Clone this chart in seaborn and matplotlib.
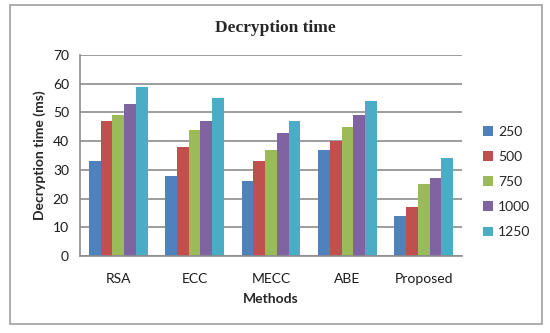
import pandas as pd
import seaborn as sns
import matplotlib
matplotlib.use('Agg')
import matplotlib.pyplot as plt
from matplotlib.patches import Rectangle

METHODS = ["RSA", "ECC", "MECC", "ABE", "Proposed"]
SIZES = ["250", "500", "750", "1000", "1250"]
T_250 = [33, 28, 26, 37, 14]
T_500 = [47, 38, 33, 40, 17]
T_750 = [49, 44, 37, 45, 25]
T_1000 = [53, 47, 43, 49, 27]
T_1250 = [59, 55, 47, 54, 34]
COLORS = ["#4F81BD", "#C0504D", "#9BBB59", "#8064A2", "#4BACC6"]

GRID = "#8c8c8c"


def make_plot():
    rows = []
    for size, vals in zip(SIZES, [T_250, T_500, T_750, T_1000, T_1250]):
        for m, v in zip(METHODS, vals):
            rows.append({"Method": m, "Size": size, "Time": v})
    df = pd.DataFrame(rows)

    fig = plt.figure(figsize=(5.5, 3.33), dpi=100)
    # outer chart frame
    fig.patches.append(Rectangle((0.018, 0.027), 0.967, 0.958, transform=fig.transFigure,
                                 fill=False, edgecolor="#a0a0a0", linewidth=1.2))
    ax = fig.add_axes([0.1455, 0.2312, 0.6945, 0.6036])

    sns.barplot(data=df, x="Method", y="Time", hue="Size", order=METHODS, hue_order=SIZES,
                palette=COLORS, saturation=1, width=0.77, ax=ax, edgecolor="none")

    ax.set_ylim(0, 70)
    ax.set_yticks(range(0, 71, 10))
    ax.yaxis.grid(True, color=GRID, linewidth=1.2)
    ax.set_axisbelow(True)
    for s in ["top", "right"]:
        ax.spines[s].set_visible(False)
    for s in ["left", "bottom"]:
        ax.spines[s].set_color(GRID)
        ax.spines[s].set_linewidth(1.2)
    ax.tick_params(axis="y", length=5, width=1.2, color=GRID, pad=3, labelsize=10, labelcolor="#1a1a1a")
    ax.tick_params(axis="x", length=0, pad=12, labelsize=10, labelcolor="#1a1a1a")

    ax.set_xlabel("Methods", fontsize=10, fontweight="bold", labelpad=6)
    ax.set_ylabel("Decryption time (ms)", fontsize=10, fontweight="bold", labelpad=5)
    fig.text(0.5, 0.915, "Decryption time", ha="center", va="center",
             fontsize=12.5, fontweight="bold", family="Liberation Serif")

    ax.legend(loc="center left", bbox_to_anchor=(0.868, 0.4535), bbox_transform=fig.transFigure,
              frameon=False, fontsize=10, handlelength=0.7, handleheight=0.7,
              handletextpad=0.4, labelspacing=0.95, borderaxespad=0)

    fig.savefig("out.png", dpi=100)
    plt.close(fig)


if __name__ == "__main__":
    sns.set_theme(style="white")
    plt.rcParams["font.family"] = ["Lato", "DejaVu Sans"]
    make_plot()
